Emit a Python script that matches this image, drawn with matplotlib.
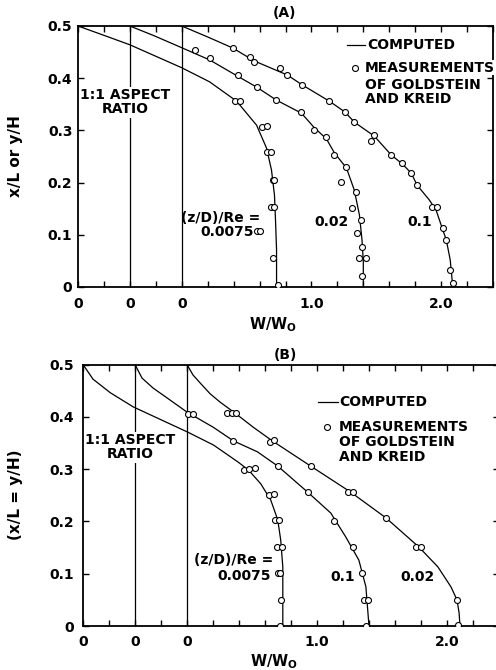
#!/usr/bin/env python3
"""
Developing laminar flow in a 1:1 aspect ratio duct: computed W/W0 profiles
compared with the Goldstein and Kreid measurements, panels (A) and (B).
"""

import numpy as np
import matplotlib.pyplot as plt
from matplotlib.ticker import FixedLocator, FixedFormatter

# each profile is drawn from its own zero on the shared W/W0 axis
offsets = [-0.8, -0.4, 0.0]
xtick_pos = np.linspace(-0.8, 2.4, 17)
xtick_text = {-0.8: "0", -0.4: "0", 0.0: "0", 1.0: "1.0", 2.0: "2.0"}
ytick_pos = [0, 0.1, 0.2, 0.3, 0.4, 0.5]
ytick_text = ["0", "0.1", "0.2", "0.3", "0.4", "0.5"]

# ---- panel (A): computed curves (W/W0 measured from each curve's own zero)
a1_w = [0, 0.19, 0.40, 0.80, 1.015, 1.223, 1.377, 1.454, 1.492, 1.515, 1.523, 1.531, 1.531]
a1_y = [0.5, 0.483, 0.464, 0.420, 0.393, 0.356, 0.310, 0.266, 0.224, 0.176, 0.128, 0.071, 0.0]
a2_w = [0, 0.19, 0.385, 0.615, 0.83, 0.977, 1.13, 1.323, 1.423, 1.515, 1.577, 1.67, 1.73,
        1.77, 1.79, 1.80, 1.80]
a2_y = [0.5, 0.481, 0.46, 0.435, 0.404, 0.383, 0.358, 0.333, 0.305, 0.284, 0.257, 0.228,
        0.186, 0.138, 0.09, 0.048, 0.0]
a3_w = [0, 0.2, 0.392, 0.56, 0.815, 0.93, 1.138, 1.26, 1.33, 1.485, 1.615, 1.70, 1.77,
        1.815, 1.908, 1.96, 2.008, 2.04, 2.07, 2.09]
a3_y = [0.5, 0.479, 0.458, 0.433, 0.406, 0.387, 0.356, 0.335, 0.316, 0.289, 0.253, 0.236,
        0.218, 0.195, 0.167, 0.148, 0.113, 0.09, 0.052, 0.0]

# panel (A): measurements
a1_mw = [1.21, 1.25, 1.415, 1.46, 1.46, 1.485, 1.50, 1.515, 1.49, 1.515, 1.38, 1.40, 1.50, 1.54]
a1_my = [0.356, 0.356, 0.307, 0.308, 0.259, 0.259, 0.205, 0.205, 0.153, 0.153, 0.107, 0.107,
         0.056, 0.004]
a2_mw = [0.50, 0.615, 0.83, 0.977, 1.13, 1.323, 1.423, 1.515, 1.577, 1.67, 1.63, 1.746,
         1.715, 1.785, 1.754, 1.79, 1.77, 1.823, 1.79]
a2_my = [0.454, 0.439, 0.406, 0.383, 0.358, 0.335, 0.301, 0.287, 0.253, 0.23, 0.201, 0.182,
         0.151, 0.128, 0.103, 0.077, 0.056, 0.056, 0.021]
a3_mw = [0.392, 0.523, 0.56, 0.754, 0.815, 0.93, 1.138, 1.26, 1.33, 1.485, 1.46, 1.615,
         1.70, 1.77, 1.815, 1.93, 1.97, 2.015, 2.04, 2.07, 2.09]
a3_my = [0.458, 0.441, 0.431, 0.42, 0.406, 0.387, 0.356, 0.335, 0.316, 0.291, 0.28, 0.253,
         0.238, 0.218, 0.195, 0.153, 0.153, 0.113, 0.09, 0.033, 0.008]

# ---- panel (B): computed curves
b1_w = [0, 0.077, 0.21, 0.386, 0.803, 1.004, 1.19, 1.274, 1.367, 1.444, 1.498, 1.521,
        1.537, 1.537, 1.537]
b1_y = [0.5, 0.472, 0.446, 0.419, 0.371, 0.346, 0.314, 0.298, 0.272, 0.241, 0.203, 0.164,
        0.113, 0.05, 0.0]
b2_w = [0, 0.054, 0.139, 0.27, 0.40, 0.602, 0.757, 0.942, 1.097, 1.328, 1.506, 1.622,
        1.722, 1.776, 1.79, 1.80]
b2_y = [0.5, 0.474, 0.455, 0.432, 0.409, 0.38, 0.354, 0.333, 0.306, 0.256, 0.216, 0.17,
        0.126, 0.075, 0.031, 0.0]
b3_w = [0, 0.046, 0.10, 0.178, 0.255, 0.37, 0.51, 0.656, 0.95, 1.259, 1.529, 1.784, 1.93,
        2.03, 2.077, 2.093, 2.10]
b3_y = [0.5, 0.48, 0.465, 0.444, 0.428, 0.407, 0.38, 0.354, 0.306, 0.256, 0.207, 0.151,
        0.113, 0.075, 0.05, 0.025, 0.0]

# panel (B): measurements
b1_mw = [1.236, 1.274, 1.32, 1.429, 1.467, 1.475, 1.506, 1.49, 1.529, 1.498, 1.514, 1.521, 1.514]
b1_my = [0.298, 0.30, 0.302, 0.25, 0.252, 0.203, 0.203, 0.151, 0.151, 0.101, 0.101, 0.05, 0.0]
b2_mw = [0.409, 0.448, 0.757, 1.097, 1.328, 1.529, 1.676, 1.745, 1.761, 1.792, 1.776]
b2_my = [0.405, 0.405, 0.354, 0.306, 0.256, 0.201, 0.151, 0.101, 0.05, 0.05, 0.0]
b3_mw = [0.309, 0.347, 0.378, 0.641, 0.672, 0.95, 1.236, 1.274, 1.529, 1.761, 1.80, 2.077, 2.085]
b3_my = [0.407, 0.407, 0.407, 0.352, 0.356, 0.306, 0.256, 0.256, 0.207, 0.151, 0.151, 0.05, 0.002]

FIG_W, FIG_H = 496, 670

plt.rcParams["font.family"] = ["DejaVu Sans"]
plt.rcParams["font.weight"] = "bold"
plt.rcParams["mathtext.default"] = "bf"

fig = plt.figure(figsize=(FIG_W / 100, FIG_H / 100), dpi=100)


def add_panel(left, top, right, bottom):
    # box given in pixels of the reference picture
    return fig.add_axes([left / FIG_W, 1 - bottom / FIG_H,
                         (right - left) / FIG_W, (bottom - top) / FIG_H])


def draw_panel(ax, lines, points, ylabel, ylabel_x, xlabel_pos, xpad, ypad):
    for off in offsets[1:]:
        ax.plot([off, off], [0, 0.5], color="black", lw=0.9, zorder=1)
    for off, (w, y) in zip(offsets, lines):
        ax.plot([v + off for v in w], y, color="black", lw=0.9, zorder=2)
    for off, (w, y) in zip(offsets, points):
        ax.plot([v + off for v in w], y, ls="none", marker="o", ms=4.3,
                mfc="white", mec="black", mew=0.8, zorder=4)

    ax.set_xlim(-0.8, 2.4)
    ax.set_ylim(0, 0.5)
    ax.xaxis.set_major_locator(FixedLocator(xtick_pos))
    ax.xaxis.set_major_formatter(FixedFormatter(
        [xtick_text.get(round(float(p), 1), "") for p in xtick_pos]))
    ax.yaxis.set_major_locator(FixedLocator(ytick_pos))
    ax.yaxis.set_major_formatter(FixedFormatter(ytick_text))
    ax.tick_params(axis="both", direction="in", length=4, width=1,
                   top=True, right=True, labelsize=10)
    ax.tick_params(axis="x", pad=xpad)
    ax.tick_params(axis="y", pad=ypad)
    for s in ax.spines.values():
        s.set_linewidth(1.3)

    ax.set_ylabel(ylabel, fontsize=11, fontweight="bold")
    ax.yaxis.set_label_coords(ylabel_x, 0.5)
    ax.set_xlabel(r"$\mathbf{W/W_O}$", fontsize=10.5)
    ax.xaxis.set_label_coords(*xlabel_pos)


def text(ax, x, y, s, ha="center", **kw):
    ax.text(x, y, s, ha=ha, va="center", fontsize=10, fontweight="bold", **kw)


# ---------------- panel (A)
ax_a = add_panel(78, 26, 493, 287)
draw_panel(ax_a,
           [(a1_w, a1_y), (a2_w, a2_y), (a3_w, a3_y)],
           [(a1_mw, a1_my), (a2_mw, a2_my), (a3_mw, a3_my)],
           "x/L or y/H", -0.1325, (0.47, -0.108), 7.5, 4)
fig.text(285 / FIG_W, 1 - 13 / FIG_H, "(A)", ha="center", va="center",
         fontsize=10, fontweight="bold")
# white box breaks the zero line behind the label, but stays under the spines
text(ax_a, -0.438, 0.354, "1:1 ASPECT\nRATIO", linespacing=1.0,
     bbox=dict(fc="white", ec="none", pad=1), zorder=2.2)
text(ax_a, 0.303, 0.133, "(z/D)/Re =")
text(ax_a, 0.349, 0.105, "0.0075")
text(ax_a, 1.151, 0.125, "0.02")
text(ax_a, 1.837, 0.125, "0.1")
ax_a.plot([1.274, 1.413], [0.464, 0.464], color="black", lw=0.9)
text(ax_a, 1.428, 0.464, "COMPUTED", ha="left")
ax_a.plot([1.336], [0.42], ls="none", marker="o", ms=4.3, mfc="white",
          mec="black", mew=0.8)
text(ax_a, 1.413, 0.42, "MEASUREMENTS", ha="left",
     bbox=dict(fc="white", ec="none", pad=0.5), zorder=5)
text(ax_a, 1.413, 0.387, "OF GOLDSTEIN", ha="left")
text(ax_a, 1.413, 0.361, "AND KREID", ha="left")

# ---------------- panel (B)
ax_b = add_panel(83, 364.5, 499, 626)
draw_panel(ax_b,
           [(b1_w, b1_y), (b2_w, b2_y), (b3_w, b3_y)],
           [(b1_mw, b1_my), (b2_mw, b2_my), (b3_mw, b3_my)],
           "(x/L = y/H)", -0.144, (0.46, -0.10), 6.5, 6.5)
fig.text(285 / FIG_W, 1 - 355 / FIG_H, "(B)", ha="center", va="center",
         fontsize=10, fontweight="bold")
text(ax_b, -0.437, 0.342, "1:1 ASPECT\nRATIO", linespacing=1.0,
     bbox=dict(fc="white", ec="none", pad=1), zorder=2.2)
text(ax_b, 0.358, 0.126, "(z/D)/Re =")
text(ax_b, 0.443, 0.096, "0.0075")
text(ax_b, 1.20, 0.094, "0.1")
text(ax_b, 1.771, 0.094, "0.02")
ax_b.plot([1.007, 1.161], [0.428, 0.428], color="black", lw=0.9)
text(ax_b, 1.169, 0.428, "COMPUTED", ha="left")
ax_b.plot([1.076], [0.38], ls="none", marker="o", ms=4.3, mfc="white",
          mec="black", mew=0.8)
text(ax_b, 1.169, 0.38, "MEASUREMENTS", ha="left")
text(ax_b, 1.169, 0.352, "OF GOLDSTEIN", ha="left")
text(ax_b, 1.169, 0.323, "AND KREID", ha="left")

fig.savefig("out.png", dpi=100, facecolor="white")
plt.close(fig)
